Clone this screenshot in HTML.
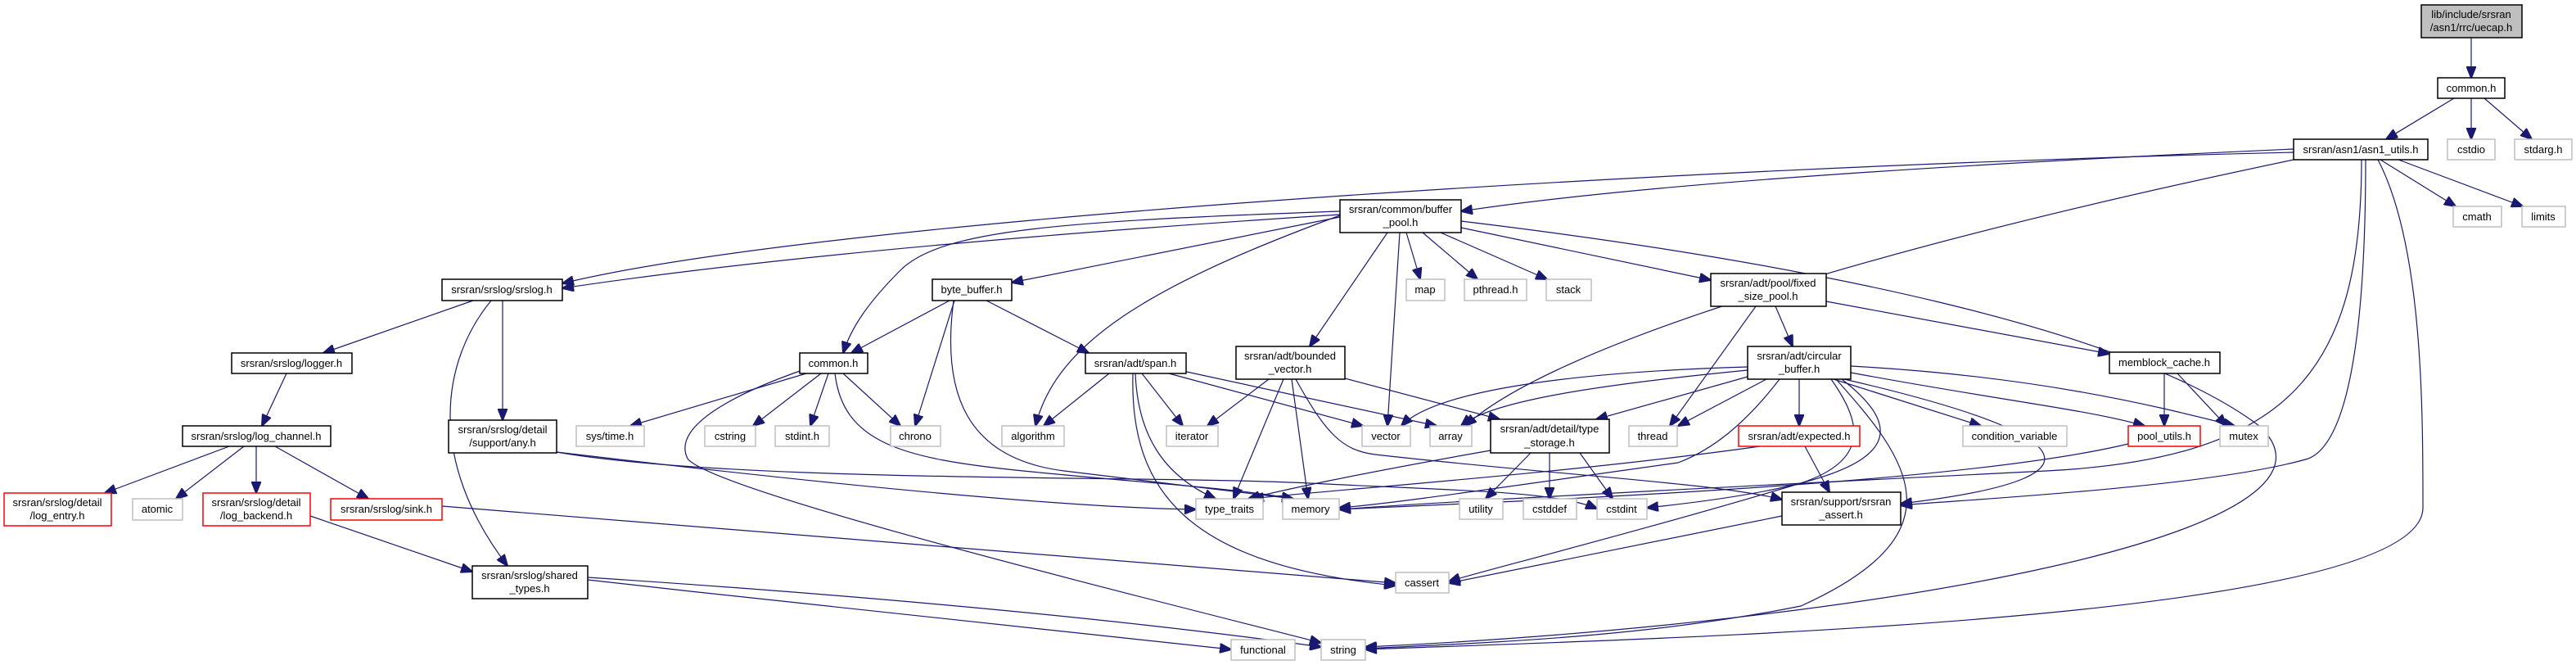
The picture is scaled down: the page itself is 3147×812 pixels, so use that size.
<!DOCTYPE html>
<html><head><meta charset="utf-8"><style>
html,body{margin:0;padding:0;background:#fff;}
svg{display:block;}
text{font-family:"Liberation Sans",Arial,sans-serif;font-size:13px;fill:#000;text-anchor:middle;}
.n rect{fill:#fff;stroke:#000;stroke-width:1.5;}
.g rect{fill:#fff;stroke:#bfbfbf;stroke-width:1.5;}
.r rect{fill:#fff;stroke:#ff0000;stroke-width:1.5;}
path{fill:none;stroke:#191970;stroke-width:1.2;}
</style></head><body>
<svg width="3147" height="812" viewBox="0 0 3147 812" xmlns="http://www.w3.org/2000/svg">
<defs><marker id="a" markerUnits="userSpaceOnUse" markerWidth="15" markerHeight="12" refX="14" refY="6" orient="auto"><path d="M0,0 L15,6 L0,12 Z" style="fill:#191970;stroke:#191970"/></marker></defs>
<g marker-end="url(#a)">
<path d="M3019,46 L3019,95"/>
<path d="M2998,120 L2915,170"/>
<path d="M3019,120 L3019,170"/>
<path d="M3035,120 L3093,170"/>
<path d="M2908,195 L3000,252"/>
<path d="M2930,195 L3082,252"/>
<path d="M2802,182 C2400,200 2000,225 1785,258"/>
<path d="M2802,186 C2000,205 1000,270 687,346"/>
<path d="M1637,262 C1200,290 900,320 687,352"/>
<path d="M2802,195 C2300,300 1900,420 1790,520"/>
<path d="M2885,195 C2885,450 2800,560 2500,575 S1800,610 1636,622"/>
<path d="M2890,195 C2890,400 2870,540 2820,560 C2700,595 2400,610 2322,617"/>
<path d="M2905,195 C2960,300 2960,500 2960,620 C2960,760 2000,780 1668,793"/>
<path d="M1637,265 L1236,345"/>
<path d="M1637,258 C1300,270 1150,280 1100,330 C1060,370 1040,400 1030,431"/>
<path d="M1637,263 C1400,350 1290,420 1265,520"/>
<path d="M1695,284 L1600,423"/>
<path d="M1710,284 L1695,520"/>
<path d="M1718,284 L1735,341"/>
<path d="M1738,284 L1805,341"/>
<path d="M1760,284 L1890,341"/>
<path d="M1785,278 L2090,342"/>
<path d="M1785,270 C2200,320 2600,400 2760,520 C2900,650 2300,760 1668,790"/>
<path d="M578,367 L395,431"/>
<path d="M614,367 L614,513"/>
<path d="M600,367 C540,440 520,560 620,691"/>
<path d="M350,456 L320,520"/>
<path d="M280,545 L128,602"/>
<path d="M298,545 L215,609"/>
<path d="M313,545 L313,602"/>
<path d="M336,545 L450,609"/>
<path d="M379,630 L577,698"/>
<path d="M540,618 L1705,712"/>
<path d="M718,708 C1000,740 1300,770 1504,793"/>
<path d="M718,705 C1100,730 1400,760 1614,790"/>
<path d="M680,552 C1000,590 1300,620 1461,622"/>
<path d="M680,552 C900,590 1400,580 1600,590 C1800,600 1900,600 1951,621"/>
<path d="M1160,367 L1040,431"/>
<path d="M1166,367 L1118,520"/>
<path d="M1205,367 L1330,431"/>
<path d="M1165,367 C1150,480 1180,560 1300,575 L1580,609"/>
<path d="M985,456 L770,520"/>
<path d="M1003,456 L920,520"/>
<path d="M1012,456 L990,520"/>
<path d="M1030,456 L1100,520"/>
<path d="M1020,456 C1030,540 1100,560 1250,575 C1400,590 1500,595 1580,609"/>
<path d="M980,452 C900,480 820,520 840,560 C870,600 1400,730 1614,785"/>
<path d="M1355,456 L1275,520"/>
<path d="M1395,456 L1445,520"/>
<path d="M1387,456 C1390,530 1420,580 1485,609"/>
<path d="M1384,456 C1380,600 1450,690 1705,715"/>
<path d="M1428,456 L1665,520"/>
<path d="M1445,453 L1755,520"/>
<path d="M1550,463 L1475,520"/>
<path d="M1568,463 L1507,609"/>
<path d="M1578,463 L1598,609"/>
<path d="M1643,462 L1832,512"/>
<path d="M1583,463 C1620,530 1640,550 1680,555 C1900,580 2100,590 2177,610"/>
<path d="M2169,374 L2190,423"/>
<path d="M2145,374 L2040,520"/>
<path d="M2231,368 L2577,432"/>
<path d="M2135,448 C1900,455 1750,480 1712,520"/>
<path d="M2135,452 C1950,470 1820,490 1785,520"/>
<path d="M2135,460 L1950,512"/>
<path d="M2158,463 L2050,520"/>
<path d="M2198,463 L2198,520"/>
<path d="M2240,463 L2420,520"/>
<path d="M2261,455 C2450,490 2550,500 2620,520"/>
<path d="M2261,447 C2500,460 2650,500 2730,520"/>
<path d="M2174,463 C2130,520 2090,550 2050,565 C1800,600 1700,615 1636,620"/>
<path d="M2237,463 C2270,510 2290,560 2200,590 C2000,650 1800,700 1770,710"/>
<path d="M2243,463 C2330,560 2400,650 2200,740 C2000,780 1800,785 1668,792"/>
<path d="M2253,463 C2500,520 2620,580 2322,615"/>
<path d="M2250,463 C2350,540 2300,590 2012,620"/>
<path d="M1821,550 C1650,580 1560,600 1525,609"/>
<path d="M1870,553 L1815,609"/>
<path d="M1893,553 L1893,609"/>
<path d="M1930,553 L1970,609"/>
<path d="M2205,545 L2235,601"/>
<path d="M2150,545 C1900,580 1600,600 1530,609"/>
<path d="M2644,456 L2644,520"/>
<path d="M2660,456 L2720,520"/>
<path d="M2600,542 C2400,590 1900,610 1636,622"/>
<path d="M2177,630 L1770,712"/>
</g>

<g class="n"><rect x="2958" y="6" width="123" height="40" style="fill:#bfbfbf"/><text x="3019" y="22">lib/include/srsran</text><text x="3019" y="38">/asn1/rrc/uecap.h</text></g>
<g class="n"><rect x="2978" y="95" width="82" height="25"/><text x="3019" y="112">common.h</text></g>
<g class="n"><rect x="2802" y="170" width="164" height="25"/><text x="2884" y="187">srsran/asn1/asn1_utils.h</text></g>
<g class="g"><rect x="2990" y="170" width="58" height="25"/><text x="3019" y="187">cstdio</text></g>
<g class="g"><rect x="3072" y="170" width="70" height="25"/><text x="3107" y="187">stdarg.h</text></g>
<g class="g"><rect x="2997" y="252" width="59" height="25"/><text x="3026" y="269">cmath</text></g>
<g class="g"><rect x="3081" y="252" width="53" height="25"/><text x="3107" y="269">limits</text></g>
<g class="n"><rect x="1637" y="244" width="148" height="40"/><text x="1711" y="260">srsran/common/buffer</text><text x="1711" y="276">_pool.h</text></g>
<g class="n"><rect x="540" y="341" width="147" height="26"/><text x="613" y="358">srsran/srslog/srslog.h</text></g>
<g class="n"><rect x="1139" y="341" width="97" height="26"/><text x="1187" y="358">byte_buffer.h</text></g>
<g class="g"><rect x="1718" y="341" width="47" height="26"/><text x="1741" y="358">map</text></g>
<g class="g"><rect x="1789" y="341" width="76" height="26"/><text x="1827" y="358">pthread.h</text></g>
<g class="g"><rect x="1889" y="341" width="55" height="26"/><text x="1916" y="358">stack</text></g>
<g class="n"><rect x="2090" y="334" width="141" height="40"/><text x="2160" y="350">srsran/adt/pool/fixed</text><text x="2160" y="366">_size_pool.h</text></g>
<g class="n"><rect x="283" y="431" width="147" height="25"/><text x="356" y="448">srsran/srslog/logger.h</text></g>
<g class="n"><rect x="977" y="431" width="83" height="25"/><text x="1018" y="448">common.h</text></g>
<g class="n"><rect x="1326" y="431" width="123" height="25"/><text x="1387" y="448">srsran/adt/span.h</text></g>
<g class="n"><rect x="1510" y="423" width="133" height="40"/><text x="1576" y="439">srsran/adt/bounded</text><text x="1576" y="455">_vector.h</text></g>
<g class="n"><rect x="2135" y="423" width="126" height="40"/><text x="2198" y="439">srsran/adt/circular</text><text x="2198" y="455">_buffer.h</text></g>
<g class="n"><rect x="2577" y="430" width="135" height="26"/><text x="2644" y="447">memblock_cache.h</text></g>
<g class="n"><rect x="223" y="520" width="181" height="25"/><text x="313" y="537">srsran/srslog/log_channel.h</text></g>
<g class="n"><rect x="548" y="513" width="132" height="40"/><text x="614" y="529">srsran/srslog/detail</text><text x="614" y="545">/support/any.h</text></g>
<g class="g"><rect x="704" y="520" width="83" height="25"/><text x="745" y="537">sys/time.h</text></g>
<g class="g"><rect x="861" y="520" width="62" height="25"/><text x="892" y="537">cstring</text></g>
<g class="g"><rect x="947" y="520" width="66" height="25"/><text x="980" y="537">stdint.h</text></g>
<g class="g"><rect x="1088" y="520" width="61" height="25"/><text x="1118" y="537">chrono</text></g>
<g class="g"><rect x="1224" y="520" width="76" height="25"/><text x="1262" y="537">algorithm</text></g>
<g class="g"><rect x="1425" y="520" width="63" height="25"/><text x="1456" y="537">iterator</text></g>
<g class="g"><rect x="1664" y="520" width="59" height="25"/><text x="1693" y="537">vector</text></g>
<g class="g"><rect x="1747" y="520" width="51" height="25"/><text x="1772" y="537">array</text></g>
<g class="n"><rect x="1821" y="512" width="145" height="41"/><text x="1893" y="528">srsran/adt/detail/type</text><text x="1893" y="545">_storage.h</text></g>
<g class="g"><rect x="1990" y="520" width="59" height="25"/><text x="2019" y="537">thread</text></g>
<g class="r"><rect x="2124" y="520" width="148" height="25"/><text x="2198" y="537">srsran/adt/expected.h</text></g>
<g class="g"><rect x="2398" y="520" width="127" height="25"/><text x="2461" y="537">condition_variable</text></g>
<g class="r"><rect x="2600" y="520" width="88" height="25"/><text x="2644" y="537">pool_utils.h</text></g>
<g class="g"><rect x="2712" y="520" width="59" height="25"/><text x="2741" y="537">mutex</text></g>
<g class="r"><rect x="5" y="602" width="131" height="40"/><text x="70" y="618">srsran/srslog/detail</text><text x="70" y="634">/log_entry.h</text></g>
<g class="g"><rect x="162" y="609" width="61" height="26"/><text x="192" y="626">atomic</text></g>
<g class="r"><rect x="248" y="602" width="131" height="40"/><text x="313" y="618">srsran/srslog/detail</text><text x="313" y="634">/log_backend.h</text></g>
<g class="r"><rect x="404" y="609" width="136" height="26"/><text x="472" y="626">srsran/srslog/sink.h</text></g>
<g class="g"><rect x="1461" y="609" width="82" height="25"/><text x="1502" y="626">type_traits</text></g>
<g class="g"><rect x="1567" y="609" width="69" height="25"/><text x="1601" y="626">memory</text></g>
<g class="g"><rect x="1783" y="609" width="53" height="25"/><text x="1809" y="626">utility</text></g>
<g class="g"><rect x="1861" y="609" width="65" height="25"/><text x="1893" y="626">cstddef</text></g>
<g class="g"><rect x="1951" y="609" width="61" height="25"/><text x="1981" y="626">cstdint</text></g>
<g class="n"><rect x="2177" y="601" width="145" height="40"/><text x="2249" y="617">srsran/support/srsran</text><text x="2249" y="633">_assert.h</text></g>
<g class="n"><rect x="577" y="691" width="141" height="40"/><text x="647" y="707">srsran/srslog/shared</text><text x="647" y="723">_types.h</text></g>
<g class="g"><rect x="1705" y="699" width="65" height="25"/><text x="1737" y="716">cassert</text></g>
<g class="g"><rect x="1504" y="781" width="78" height="25"/><text x="1543" y="798">functional</text></g>
<g class="g"><rect x="1614" y="781" width="54" height="25"/><text x="1641" y="798">string</text></g>
</svg>
</body></html>
